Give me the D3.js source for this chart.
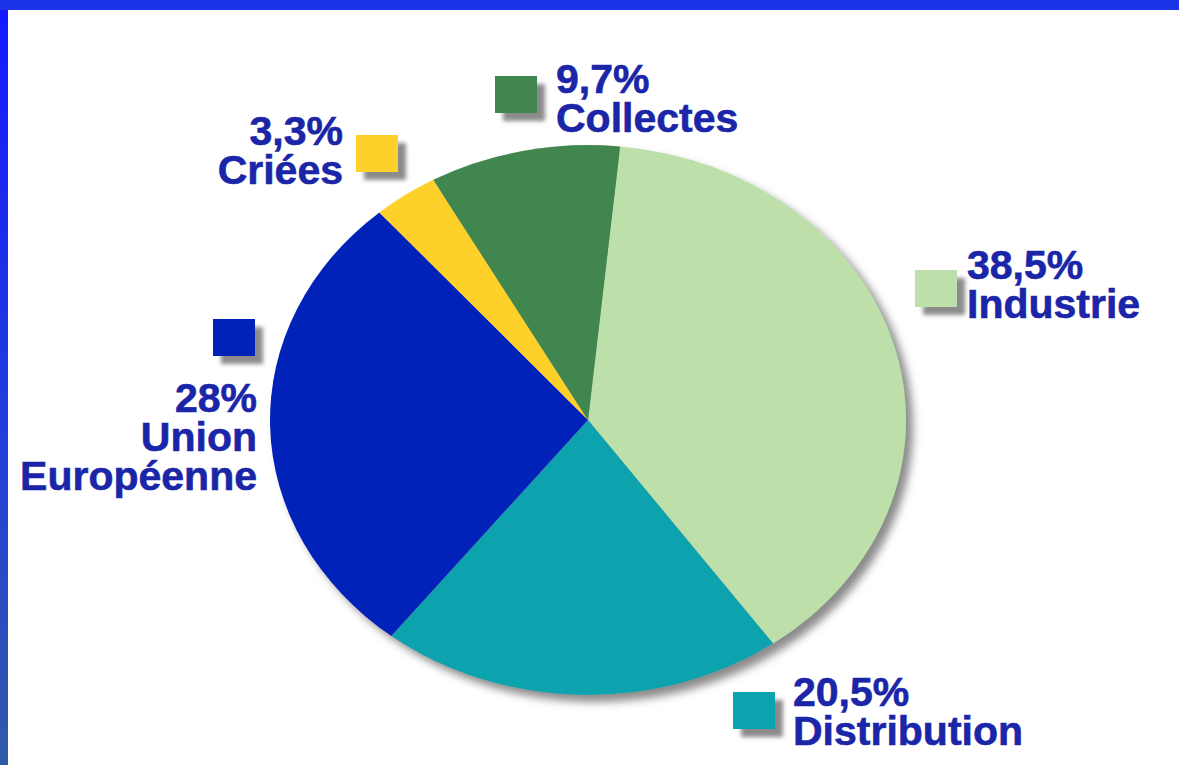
<!DOCTYPE html>
<html>
<head>
<meta charset="utf-8">
<script src="https://cdn.jsdelivr.net/npm/d3@7"></script>
<style>
  html, body { margin: 0; padding: 0; background: #fff; }
  svg { display: block; }
</style>
</head>
<body>
<svg id="chart"></svg>
<script>
// Data
const categories = ["Industrie", "Distribution", "Union Européenne", "Criées", "Collectes"];
const shares = [38.5, 20.5, 28, 3.3, 9.7];
const shareLabels = ["38,5%", "20,5%", "28%", "3,3%", "9,7%"];
const colors = ["#bde0ab", "#0aa3ae", "#0321b8", "#fdd12b", "#428650"];

// Layout of the label blocks (square + text lines), hand placed like the original
const labelLayout = [
  {sq: [915, 270], tx: 967, ty: 279, anchor: "start", lines: ["38,5%", "Industrie"]},
  {sq: [733, 692], tx: 793, ty: 706, anchor: "start", lines: ["20,5%", "Distribution"]},
  {sq: [213, 319], tx: 257, ty: 412, anchor: "end", lines: ["28%", "Union", "Européenne"]},
  {sq: [356, 135], tx: 343, ty: 145, anchor: "end", lines: ["3,3%", "Criées"]},
  {sq: [495, 76], tx: 556, ty: 93, anchor: "start", lines: ["9,7%", "Collectes"]}
];

const W = 1179, H = 765;
const cx = 588, cy = 420, rx = 318, ry = 275;

const svg = d3.select("#chart")
  .attr("width", W)
  .attr("height", H);

const defs = svg.append("defs");

// blue frame gradient on the left
const grad = defs.append("linearGradient")
  .attr("id", "leftGrad")
  .attr("x1", 0).attr("y1", 0).attr("x2", 0).attr("y2", 1);
grad.append("stop").attr("offset", "0%").attr("stop-color", "#1418ff");
grad.append("stop").attr("offset", "60%").attr("stop-color", "#2440d8");
grad.append("stop").attr("offset", "100%").attr("stop-color", "#2e5ba8");

const pieShadow = defs.append("filter")
  .attr("id", "pieShadow")
  .attr("x", "-10%").attr("y", "-10%").attr("width", "125%").attr("height", "125%");
pieShadow.append("feDropShadow")
  .attr("dx", 7).attr("dy", 7)
  .attr("stdDeviation", 4)
  .attr("flood-color", "#6e6e6e")
  .attr("flood-opacity", 0.8);

const sqShadow = defs.append("filter")
  .attr("id", "sqShadow")
  .attr("x", "-30%").attr("y", "-30%").attr("width", "180%").attr("height", "180%");
sqShadow.append("feDropShadow")
  .attr("dx", 8).attr("dy", 8)
  .attr("stdDeviation", 2)
  .attr("flood-color", "#777")
  .attr("flood-opacity", 0.85);

// frame
svg.append("rect").attr("x", 0).attr("y", 0).attr("width", W).attr("height", H).attr("fill", "#fff");
svg.append("rect").attr("x", 0).attr("y", 0).attr("width", 8).attr("height", H).attr("fill", "url(#leftGrad)");
svg.append("rect").attr("x", 0).attr("y", 0).attr("width", W).attr("height", 10).attr("fill", "#1c33e8");

// pie (elliptic: drawn with radius ry and stretched horizontally)
const startDeg = 5.8;
const pie = d3.pie()
  .sort(null)
  .startAngle(startDeg * Math.PI / 180)
  .endAngle((startDeg + 360) * Math.PI / 180);

const arc = d3.arc()
  .innerRadius(0)
  .outerRadius(ry);

const arcs = pie(shares);

const pieG = svg.append("g")
  .attr("filter", "url(#pieShadow)")
  .append("g")
  .attr("transform", `translate(${cx},${cy}) scale(${rx / ry},1)`);

pieG.selectAll("path")
  .data(arcs)
  .join("path")
    .attr("d", arc)
    .attr("fill", (d, i) => colors[i]);

// labels
const fontSize = 41;
const lineGap = 39;
const labG = svg.append("g");

labelLayout.forEach((l, i) => {
  labG.append("rect")
    .attr("x", l.sq[0])
    .attr("y", l.sq[1])
    .attr("width", 42)
    .attr("height", 37)
    .attr("fill", colors[i])
    .attr("filter", "url(#sqShadow)");

  const lines = [shareLabels[i]].concat(l.lines.slice(1));
  const t = labG.append("text")
    .attr("text-anchor", l.anchor)
    .attr("font-family", "'Liberation Sans', Arial, sans-serif")
    .attr("font-weight", "bold")
    .attr("font-size", fontSize)
    .attr("fill", "#1a25a8")
    .attr("stroke", "#1a25a8")
    .attr("stroke-width", 0.6);
  lines.forEach((s, k) => {
    t.append("tspan")
      .attr("x", l.tx)
      .attr("y", l.ty + k * lineGap)
      .text(s);
  });
});
</script>
</body>
</html>
